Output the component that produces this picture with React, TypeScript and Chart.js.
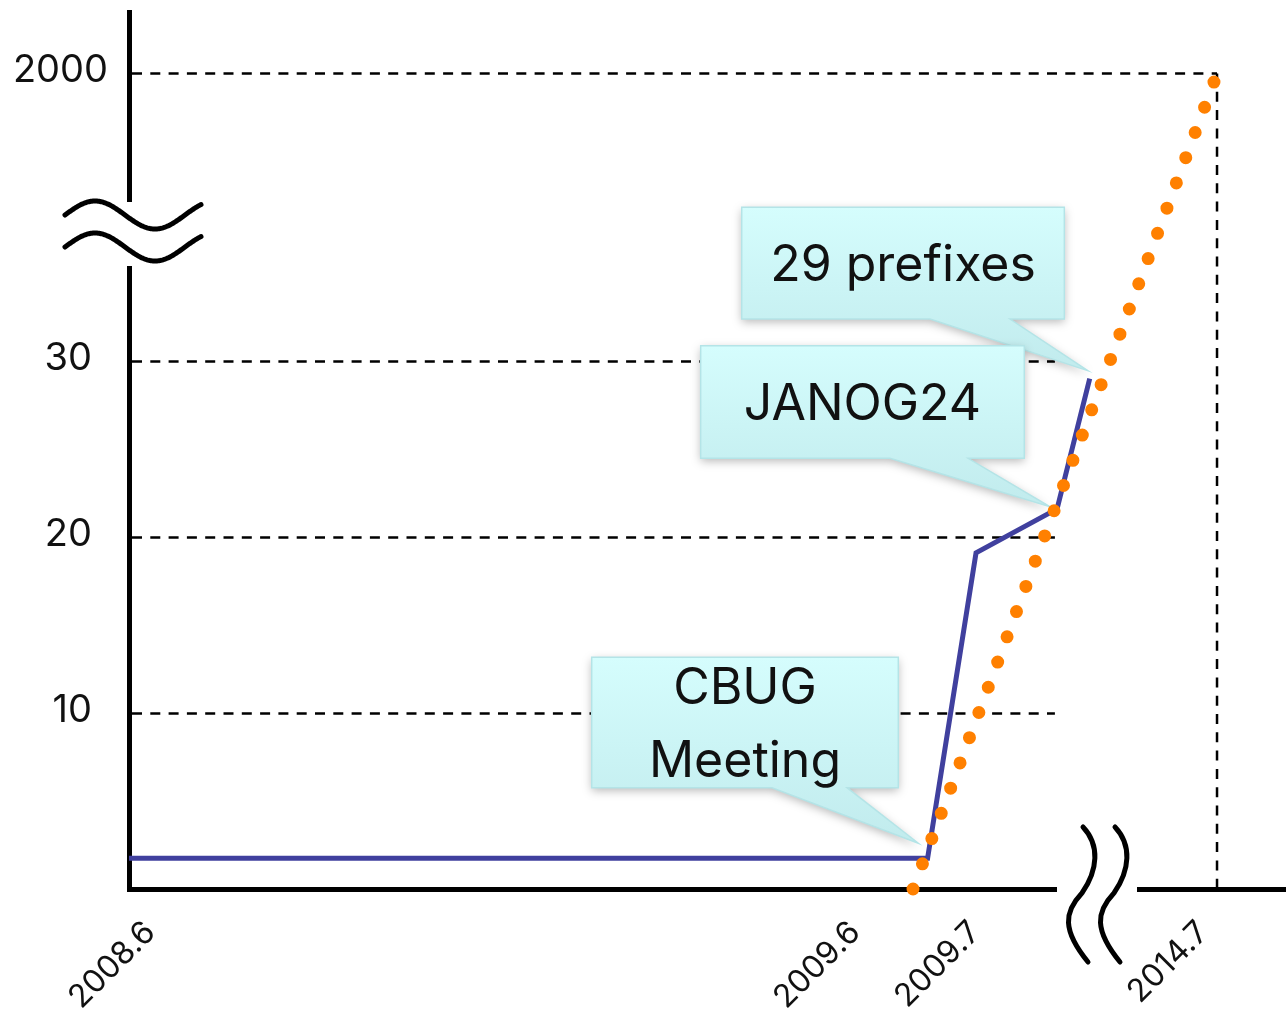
import React, { useEffect, useRef } from "react";
import { Chart, registerables } from "chart.js";

Chart.register(...registerables);

// ---- data (schematic broken axes: x 2008.6 = 0 … 2014.7 = 100; y in display units, top tick = 2000) ----
const prefixX = [0, 73.4, 77.85, 85.3, 88.3];
const prefixY = [1.75, 1.75, 19.1, 21.6, 29];
const trendX = [72.06, 99.72];
const trendY = [0, 45.85];
const yTickValues = [10, 20, 30, 46.36];
const yTickLabels = ["10", "20", "30", "2000"];
const xTickValues = [2.57, 67.37, 78.4, 99.36];
const xTickLabels = ["2008.6", "2009.6", "2009.7", "2014.7"];
const calloutLabels = [["29 prefixes"], ["JANOG24"], ["CBUG", "Meeting"]];
const calloutPointIndex = [4, 3, 1];
const gridValues = [10, 20, 30];
const gridEndX = 85.1;
const topLineX = 100;

// ---- layout / style ----
const W = 1286;
const H = 1011;
const FONT = "Inter, 'Liberation Sans', Arial, sans-serif";
const calloutLayout = [
  { tip: [-2, -8], box: [-348, -171.3, 322.6, 111.7], base: [-159.7, -79.7] },
  { tip: [-7, -2], box: [-356.4, -163.1, 323.6, 112.6], base: [-167.1, -89] },
  { tip: [-9.3, -15], box: [-335.9, -200.9, 306.6, 130.4], base: [-155.6, -80.6] },
];

const decorPlugin = {
  id: "decor",
  beforeDatasetsDraw(chart: any) {
    const ctx = chart.ctx as CanvasRenderingContext2D;
    const xs = chart.scales.x;
    const ys = chart.scales.y;
    const area = chart.chartArea;
    const x0 = area.left;
    const y0 = ys.getPixelForValue(0);

    ctx.save();
    // dashed guide lines
    ctx.strokeStyle = "#000";
    ctx.lineWidth = 2.5;
    ctx.setLineDash([10, 8.3]);
    gridValues.forEach((v) => {
      const y = Math.round(ys.getPixelForValue(v)) + 0.5;
      ctx.beginPath();
      ctx.moveTo(x0 + 3, y);
      ctx.lineTo(xs.getPixelForValue(gridEndX), y);
      ctx.stroke();
    });
    const yTop = Math.round(ys.getPixelForValue(yTickValues[3])) + 0.5;
    const xr = xs.getPixelForValue(topLineX);
    ctx.beginPath();
    ctx.moveTo(x0 + 3, yTop);
    ctx.lineTo(xr, yTop);
    ctx.stroke();
    ctx.beginPath();
    ctx.moveTo(xr, yTop);
    ctx.lineTo(xr, y0);
    ctx.stroke();
    ctx.setLineDash([]);

    // axes with breaks
    ctx.lineWidth = 5;
    ctx.lineCap = "butt";
    ctx.beginPath();
    ctx.moveTo(x0 + 0.5, area.top + 1);
    ctx.lineTo(x0 + 0.5, 202);
    ctx.moveTo(x0 + 0.5, 266);
    ctx.lineTo(x0 + 0.5, y0 + 3);
    ctx.stroke();
    ctx.beginPath();
    ctx.moveTo(x0 - 2, y0 + 0.5);
    ctx.lineTo(1057, y0 + 0.5);
    ctx.moveTo(1137, y0 + 0.5);
    ctx.lineTo(chart.width, y0 + 0.5);
    ctx.stroke();

    // y-axis break symbol
    ctx.lineCap = "round";
    [215, 247].forEach((mid) => {
      ctx.beginPath();
      for (let x = 65; x <= 201; x += 1) {
        const y = mid - 14 * Math.cos((2 * Math.PI * (x - 95)) / 120);
        if (x === 65) ctx.moveTo(x, y);
        else ctx.lineTo(x, y);
      }
      ctx.stroke();
    });
    // x-axis break symbol
    [0, 32].forEach((dx) => {
      ctx.beginPath();
      ctx.moveTo(1083 + dx, 827);
      ctx.bezierCurveTo(1100 + dx, 845, 1098 + dx, 870, 1082 + dx, 893);
      ctx.bezierCurveTo(1064 + dx, 912, 1062 + dx, 930, 1088 + dx, 962);
      ctx.stroke();
    });

    // tick labels
    ctx.fillStyle = "#111";
    ctx.font = `38px ${FONT}`;
    ctx.textAlign = "right";
    ctx.textBaseline = "middle";
    yTickValues.forEach((v, i) => {
      const lx = i === 3 ? x0 - 21 : x0 - 37;
      ctx.fillText(yTickLabels[i], lx, ys.getPixelForValue(v) - 2);
    });
    ctx.font = `32px ${FONT}`;
    ctx.textBaseline = "alphabetic";
    xTickValues.forEach((v, i) => {
      ctx.save();
      ctx.translate(xs.getPixelForValue(v), 934);
      ctx.rotate(-Math.PI / 4);
      ctx.fillText(xTickLabels[i], 0, 0);
      ctx.restore();
    });

    // callouts
    calloutLabels.forEach((lines, i) => {
      const idx = calloutPointIndex[i];
      const px = xs.getPixelForValue(prefixX[idx]);
      const py = ys.getPixelForValue(prefixY[idx]);
      const c = calloutLayout[i];
      const tipX = px + c.tip[0];
      const tipY = py + c.tip[1];
      const L = px + c.box[0];
      const T = py + c.box[1];
      const R = L + c.box[2];
      const B = T + c.box[3];
      const bl = px + c.base[0];
      const br = px + c.base[1];
      ctx.save();
      ctx.beginPath();
      ctx.moveTo(L, T);
      ctx.lineTo(R, T);
      ctx.lineTo(R, B);
      ctx.lineTo(br, B);
      ctx.lineTo(tipX, tipY);
      ctx.lineTo(bl, B);
      ctx.lineTo(L, B);
      ctx.closePath();
      const g = ctx.createLinearGradient(0, T, 0, tipY);
      g.addColorStop(0, "#d5fdfd");
      g.addColorStop(1, "#c1ebed");
      ctx.fillStyle = g;
      ctx.shadowColor = "rgba(0,0,0,0.28)";
      ctx.shadowBlur = 10;
      ctx.shadowOffsetX = 0;
      ctx.shadowOffsetY = 3;
      ctx.fill();
      ctx.shadowColor = "transparent";
      ctx.shadowBlur = 0;
      ctx.shadowOffsetY = 0;
      ctx.strokeStyle = "rgba(180,228,231,1)";
      ctx.lineWidth = 1.5;
      ctx.stroke();
      ctx.fillStyle = "#111";
      ctx.font = `50px ${FONT}`;
      ctx.textAlign = "center";
      ctx.textBaseline = "alphabetic";
      const cx = (L + R) / 2;
      const cy = (T + B) / 2;
      const lh = 73;
      lines.forEach((t, k) => {
        const by = cy + 18 + (k - (lines.length - 1) / 2) * lh;
        ctx.fillText(t, cx, by);
      });
      ctx.restore();
    });
    ctx.restore();
  },
};

export default function App() {
  const ref = useRef<HTMLCanvasElement | null>(null);
  useEffect(() => {
    if (!ref.current) return;
    document.body.style.margin = "0";
    document.body.style.overflow = "hidden";
    const chart = new Chart(ref.current, {
      type: "line",
      data: {
        datasets: [
          {
            label: "trend",
            data: trendX.map((x, i) => ({ x, y: trendY[i] })),
            borderColor: "#ff8000",
            borderWidth: 13,
            borderCapStyle: "round",
            borderDash: (ctx: any) => {
              const c = ctx.chart;
              const xs = c.scales?.x;
              const ys = c.scales?.y;
              if (!xs || !ys) return [0, 26.94];
              const dx = xs.getPixelForValue(trendX[1]) - xs.getPixelForValue(trendX[0]);
              const dy = ys.getPixelForValue(trendY[1]) - ys.getPixelForValue(trendY[0]);
              return [0, Math.hypot(dx, dy) / 32];
            },
            pointRadius: 0,
            fill: false,
            tension: 0,
            clip: false,
            order: 0,
          } as any,
          {
            label: "prefixes",
            data: prefixX.map((x, i) => ({ x, y: prefixY[i] })),
            borderColor: "#40409e",
            borderWidth: 5,
            borderJoinStyle: "miter",
            pointRadius: 0,
            fill: false,
            tension: 0,
            clip: false,
            order: 1,
          } as any,
        ],
      },
      options: {
        responsive: false,
        maintainAspectRatio: false,
        devicePixelRatio: 1,
        animation: false,
        events: [],
        layout: { autoPadding: false, padding: { left: 129, right: 0, top: 9, bottom: 122 } },
        plugins: { legend: { display: false }, tooltip: { enabled: false } },
        scales: {
          x: { type: "linear", min: 0, max: 106.34, display: false },
          y: { type: "linear", min: 0, max: 50, display: false },
        },
      },
      plugins: [decorPlugin],
    } as any);
    const fonts: any = (document as any).fonts;
    if (fonts && fonts.load) {
      Promise.all([fonts.load(`50px Inter`), fonts.load(`32px Inter`)]).then(() => chart.update("none")).catch(() => {});
    }
    return () => chart.destroy();
  }, []);
  return (
    <div style={{ position: "absolute", left: 0, top: 0, width: W, height: H, background: "#fff" }}>
      <canvas ref={ref} width={W} height={H} style={{ display: "block", width: W, height: H }} />
    </div>
  );
}
